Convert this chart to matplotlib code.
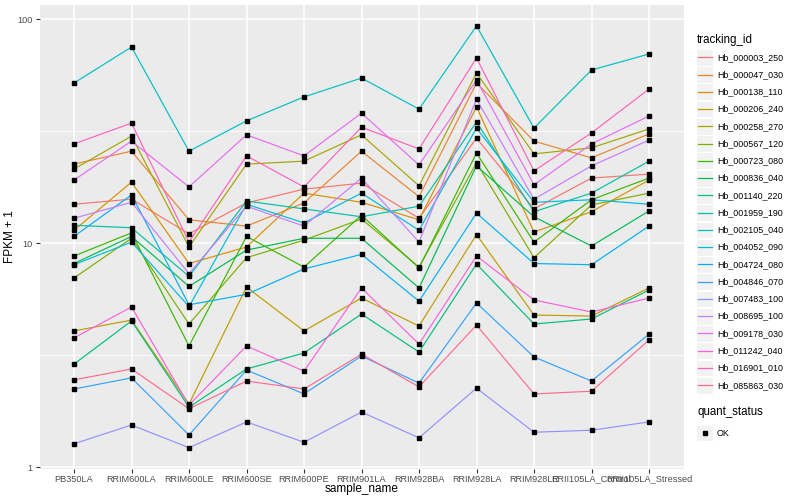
import matplotlib
matplotlib.use("Agg")
import matplotlib.pyplot as plt
import matplotlib.ticker as ticker
from matplotlib.lines import Line2D
from matplotlib.patches import Rectangle

plt.rcParams['font.family'] = ['Liberation Sans', 'DejaVu Sans']

# sample order on the x axis
samples = ['PB350LA', 'RRIM600LA', 'RRIM600LE', 'RRIM600SE', 'RRIM600PE',
           'RRIM901LA', 'RRIM928BA', 'RRIM928LA', 'RRIM928LE',
           'RRII105LA_Control', 'RRII105LA_Stressed']

# FPKM + 1 per gene
hb_000003_250 = [14.9, 15.7, 11.0, 15.1, 17.4, 18.5, 12.9, 29.4, 14.2, 19.5, 20.3]
hb_000047_030 = [22.5, 25.7, 12.7, 11.9, 15.1, 25.7, 16.1, 51.8, 28.5, 24.0, 30.7]
hb_000138_110 = [11.4, 18.7, 8.1, 9.6, 16.7, 15.2, 12.7, 40.5, 11.2, 13.8, 19.1]
hb_000206_240 = [4.05, 4.53, 1.91, 6.36, 4.05, 5.68, 4.26, 10.9, 4.77, 4.72, 6.30]
hb_000258_270 = [21.4, 30.0, 9.6, 22.5, 23.2, 30.4, 18.0, 57.4, 25.0, 26.6, 32.3]
hb_000567_120 = [6.98, 10.5, 4.35, 8.6, 10.3, 12.8, 7.81, 22.8, 8.6, 14.8, 16.7]
hb_000723_080 = [8.75, 11.1, 3.47, 10.7, 7.81, 13.3, 7.74, 25.2, 10.1, 15.6, 19.5]
hb_000836_040 = [8.1, 10.7, 6.4, 9.3, 10.5, 10.5, 6.3, 22.1, 13.1, 9.7, 13.9]
hb_001140_220 = [2.88, 4.49, 1.85, 2.74, 3.23, 4.82, 3.26, 8.06, 4.35, 4.58, 6.17]
hb_001959_190 = [12.0, 11.7, 7.1, 15.4, 14.2, 13.1, 14.6, 34.7, 13.8, 16.7, 23.2]
hb_002105_040 = [51.8, 75.0, 25.7, 35.1, 44.9, 54.5, 39.6, 93.1, 32.6, 59.2, 69.8]
hb_004052_090 = [8.0, 10.1, 5.2, 14.9, 12.3, 16.7, 11.4, 32.6, 15.2, 15.6, 14.9]
hb_004724_080 = [10.7, 16.4, 5.3, 5.9, 7.66, 8.9, 5.5, 13.6, 8.1, 8.0, 11.9]
hb_004846_070 = [2.23, 2.50, 1.39, 2.71, 2.12, 3.13, 2.37, 5.40, 3.10, 2.42, 3.92]
hb_007483_100 = [1.27, 1.54, 1.22, 1.59, 1.29, 1.76, 1.35, 2.25, 1.43, 1.46, 1.59]
hb_008695_100 = [12.9, 15.2, 7.3, 14.6, 11.9, 19.5, 10.1, 43.9, 15.7, 22.1, 28.8]
hb_009178_030 = [19.1, 28.5, 17.8, 30.4, 24.5, 38.0, 22.3, 53.4, 18.2, 27.7, 36.9]
hb_011242_040 = [3.77, 5.18, 1.89, 3.47, 2.68, 6.30, 3.54, 8.75, 5.57, 4.92, 5.68]
hb_016901_010 = [27.7, 34.3, 10.1, 24.5, 17.8, 32.9, 26.3, 67.0, 21.0, 31.0, 48.7]
hb_085863_030 = [2.45, 2.74, 1.82, 2.42, 2.23, 3.19, 2.28, 4.30, 2.12, 2.18, 3.69]

genes = {
    'Hb_000003_250': hb_000003_250,
    'Hb_000047_030': hb_000047_030,
    'Hb_000138_110': hb_000138_110,
    'Hb_000206_240': hb_000206_240,
    'Hb_000258_270': hb_000258_270,
    'Hb_000567_120': hb_000567_120,
    'Hb_000723_080': hb_000723_080,
    'Hb_000836_040': hb_000836_040,
    'Hb_001140_220': hb_001140_220,
    'Hb_001959_190': hb_001959_190,
    'Hb_002105_040': hb_002105_040,
    'Hb_004052_090': hb_004052_090,
    'Hb_004724_080': hb_004724_080,
    'Hb_004846_070': hb_004846_070,
    'Hb_007483_100': hb_007483_100,
    'Hb_008695_100': hb_008695_100,
    'Hb_009178_030': hb_009178_030,
    'Hb_011242_040': hb_011242_040,
    'Hb_016901_010': hb_016901_010,
    'Hb_085863_030': hb_085863_030,
}

# ggplot2 default hue palette, 20 levels
colors = ['#F8766D', '#EA8331', '#D89000', '#C09B00', '#A3A500', '#7CAE00',
          '#39B600', '#00BB4E', '#00BF7D', '#00C1A3', '#00BFC4', '#00BAE0',
          '#00B0F6', '#35A2FF', '#9590FF', '#C77CFF', '#E76BF3', '#FA62DB',
          '#FF62BC', '#FF6C91']

W, H = 800, 500
fig = plt.figure(figsize=(8, 5), dpi=100)
ax = fig.add_axes([39.5 / W, 1 - 469 / H, 644 / W, 464 / H])
ax.set_facecolor('#EBEBEB')

xpos = list(range(len(samples)))
for (name, vals), c in zip(genes.items(), colors):
    ax.plot(xpos, vals, color=c, lw=0.85, zorder=3)
    ax.plot(xpos, vals, 's', color='black', ms=2.6, zorder=4)

ax.set_yscale('log')
ax.set_ylim(0.98, 115.5)
ax.set_xlim(-0.6, len(samples) - 0.4)

ax.set_xticks(xpos)
ax.set_xticklabels(samples)
ax.yaxis.set_major_locator(ticker.FixedLocator([1, 10, 100]))
ax.yaxis.set_major_formatter(ticker.FixedFormatter(['1', '10', '100']))
ax.yaxis.set_minor_locator(ticker.FixedLocator([10 ** 0.5, 10 ** 1.5]))
ax.yaxis.set_minor_formatter(ticker.NullFormatter())

ax.grid(True, which='major', color='white', lw=1.1, zorder=1)
ax.grid(True, which='minor', axis='y', color='white', lw=0.55, zorder=1)
ax.set_axisbelow(True)
for s in ax.spines.values():
    s.set_visible(False)
ax.tick_params(which='major', length=3, width=0.8, color='#333333',
               labelcolor='#4D4D4D', labelsize=6.6, pad=2)
ax.tick_params(axis='x', which='major', pad=1)
ax.tick_params(which='minor', length=0)

ax.set_xlabel('sample_name', fontsize=8.5)
ax.set_ylabel('FPKM + 1', fontsize=8.5)
ax.xaxis.set_label_coords(0.5, -0.031)
ax.yaxis.set_label_coords(-0.036, 0.5)

# legends drawn by hand in pixel positions (ggplot style keys)
def fx(x):
    return x / W

def fy(y):
    return 1 - y / H

fig.text(fx(697), fy(40.5), 'tracking_id', fontsize=8.3, va='center', ha='left')
step = 17.26
for i, (name, c) in enumerate(zip(genes.keys(), colors)):
    yc = 57.3 + i * step
    fig.add_artist(Rectangle((fx(696), fy(yc + 8.4)), 17 / W, 16.8 / H,
                             transform=fig.transFigure, facecolor='#F2F2F2',
                             edgecolor='white', lw=0.8))
    fig.add_artist(Line2D([fx(698), fx(712)], [fy(yc), fy(yc)],
                          transform=fig.transFigure, color=c, lw=0.9))
    fig.text(fx(717), fy(yc), name, fontsize=6.4, va='center', ha='left')

fig.text(fx(697), fy(412), 'quant_status', fontsize=8.3, va='center', ha='left')
fig.add_artist(Rectangle((fx(696), fy(433 + 8.4)), 17 / W, 16.8 / H,
                         transform=fig.transFigure, facecolor='#F2F2F2',
                         edgecolor='white', lw=0.8))
fig.add_artist(Line2D([fx(704.5)], [fy(433)], transform=fig.transFigure,
                      marker='s', color='black', ms=2.6, lw=0))
fig.text(fx(717), fy(433), 'OK', fontsize=6.4, va='center', ha='left')

fig.savefig('out.png', dpi=100)
